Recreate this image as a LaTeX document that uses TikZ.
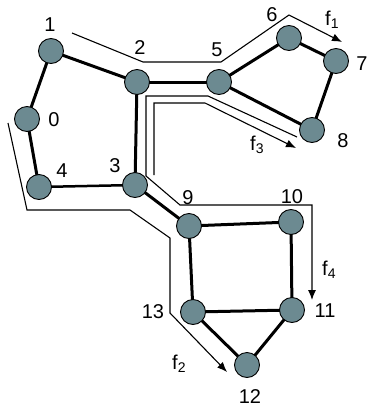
\documentclass[tikz,border=0pt]{standalone}
\usepackage{fontspec}
\setmainfont{Liberation Sans}
\usetikzlibrary{arrows.meta,backgrounds}
\definecolor{nodegray}{RGB}{108,138,145}
\begin{document}
\begin{tikzpicture}[x=1pt,y=-1pt,
  vert/.style={circle,draw=black,line width=0.9pt,fill=nodegray,minimum size=25pt,inner sep=0pt},
  edge/.style={line width=3pt},
  thinedge/.style={line width=2.5pt},
  lbl/.style={font=\fontsize{20}{22}\selectfont,inner sep=0pt},
  sub/.style={font=\fontsize{14}{14}\selectfont},
  flowarrow/.style={line width=1.1pt,-{Latex[length=10pt,width=8pt]}}]
\useasboundingbox (0,0) rectangle (368,410);
% vertices
\node[vert] (n0) at (27,119) {};
\node[vert] (n1) at (51,51) {};
\node[vert] (n2) at (137,82) {};
\node[vert] (n3) at (135,185) {};
\node[vert] (n4) at (39,187) {};
\node[vert] (n5) at (219,82) {};
\node[vert] (n6) at (289,38) {};
\node[vert] (n7) at (336,61) {};
\node[vert] (n8) at (312,130) {};
\node[vert] (n9) at (189,226) {};
\node[vert] (n10) at (291,222) {};
\node[vert] (n11) at (292,310) {};
\node[vert] (n12) at (247,365) {};
\node[vert] (n13) at (193,312) {};
% edges, behind the vertices
\begin{scope}[on background layer]
\draw[edge] (n1.center) -- (n0.center);
\draw[edge] (n0.center) -- (n4.center);
\draw[thinedge] (n4.center) -- (n3.center);
\draw[edge] (n1.center) -- (n2.center);
\draw[edge] (n2.center) -- (n5.center);
\draw[edge] (n2.center) -- (n3.center);
\draw[edge] (n3.center) -- (n9.center);
\draw[edge] (n5.center) -- (n6.center);
\draw[edge] (n6.center) -- (n7.center);
\draw[edge] (n7.center) -- (n8.center);
\draw[edge] (n5.center) -- (n8.center);
\draw[edge] (n9.center) -- (n10.center);
\draw[edge] (n9.center) -- (n13.center);
\draw[edge] (n10.center) -- (n11.center);
\draw[edge] (n13.center) -- (n11.center);
\draw[edge] (n13.center) -- (n12.center);
\draw[edge] (n11.center) -- (n12.center);
\end{scope}
% labels
\node[lbl] (l1) at (50,25) {1};
\node[lbl] (l2) at (140,48) {2};
\node[lbl] (l0) at (54,120) {0};
\node[lbl] (l4) at (62,171) {4};
\node[lbl] (l3) at (115,166) {3};
\node[lbl] (l5) at (217,50) {5};
\node[lbl] (l6) at (272,15) {6};
\node[lbl] (l7) at (362,64) {7};
\node[lbl] (l8) at (343,141) {8};
\node[lbl] (l9) at (188,198) {9};
\node[lbl] (l10) at (292,197) {10};
\node[lbl] (l11) at (325,311) {11};
\node[lbl] (l13) at (153,312) {13};
\node[lbl] (l12) at (250,397) {12};
\node[lbl,anchor=base west] (f1) at (325,25) {f\textsubscript{\fontsize{14}{14}\selectfont 1}};
\node[lbl,anchor=base west] (f3) at (250,150) {f\textsubscript{\fontsize{14}{14}\selectfont 3}};
\node[lbl,anchor=base west] (f4) at (322,275) {f\textsubscript{\fontsize{14}{14}\selectfont 4}};
\node[lbl,anchor=base west] (f2) at (172,369) {f\textsubscript{\fontsize{14}{14}\selectfont 2}};
% flow paths
\coordinate (a1) at (72,33);
\coordinate (a2) at (143,62);
\coordinate (a3) at (221,62);
\coordinate (a4) at (289,15);
\coordinate (a5) at (342,42);
\draw[flowarrow] (a1) -- (a2) -- (a3) -- (a4) -- (a5);
\coordinate (b1) at (154,175);
\coordinate (b2) at (154,103);
\coordinate (b3) at (205,103);
\coordinate (b4) at (296,148);
\draw[flowarrow] (b1) -- (b2) -- (b3) -- (b4);
\coordinate (c1) at (297,137);
\coordinate (c2) at (208,96);
\coordinate (c3) at (146,96);
\coordinate (c4) at (146,176);
\coordinate (c5) at (180,205);
\coordinate (c6) at (312,205);
\coordinate (c7) at (312,300);
\draw[flowarrow] (c1) -- (c2) -- (c3) -- (c4) -- (c5) -- (c6) -- (c7);
\coordinate (d1) at (8,123);
\coordinate (d2) at (27,210);
\coordinate (d3) at (130,210);
\coordinate (d4) at (170,238);
\coordinate (d5) at (170,313);
\coordinate (d6) at (227,372);
\draw[flowarrow] (d1) -- (d2) -- (d3) -- (d4) -- (d5) -- (d6);
\end{tikzpicture}
\end{document}
